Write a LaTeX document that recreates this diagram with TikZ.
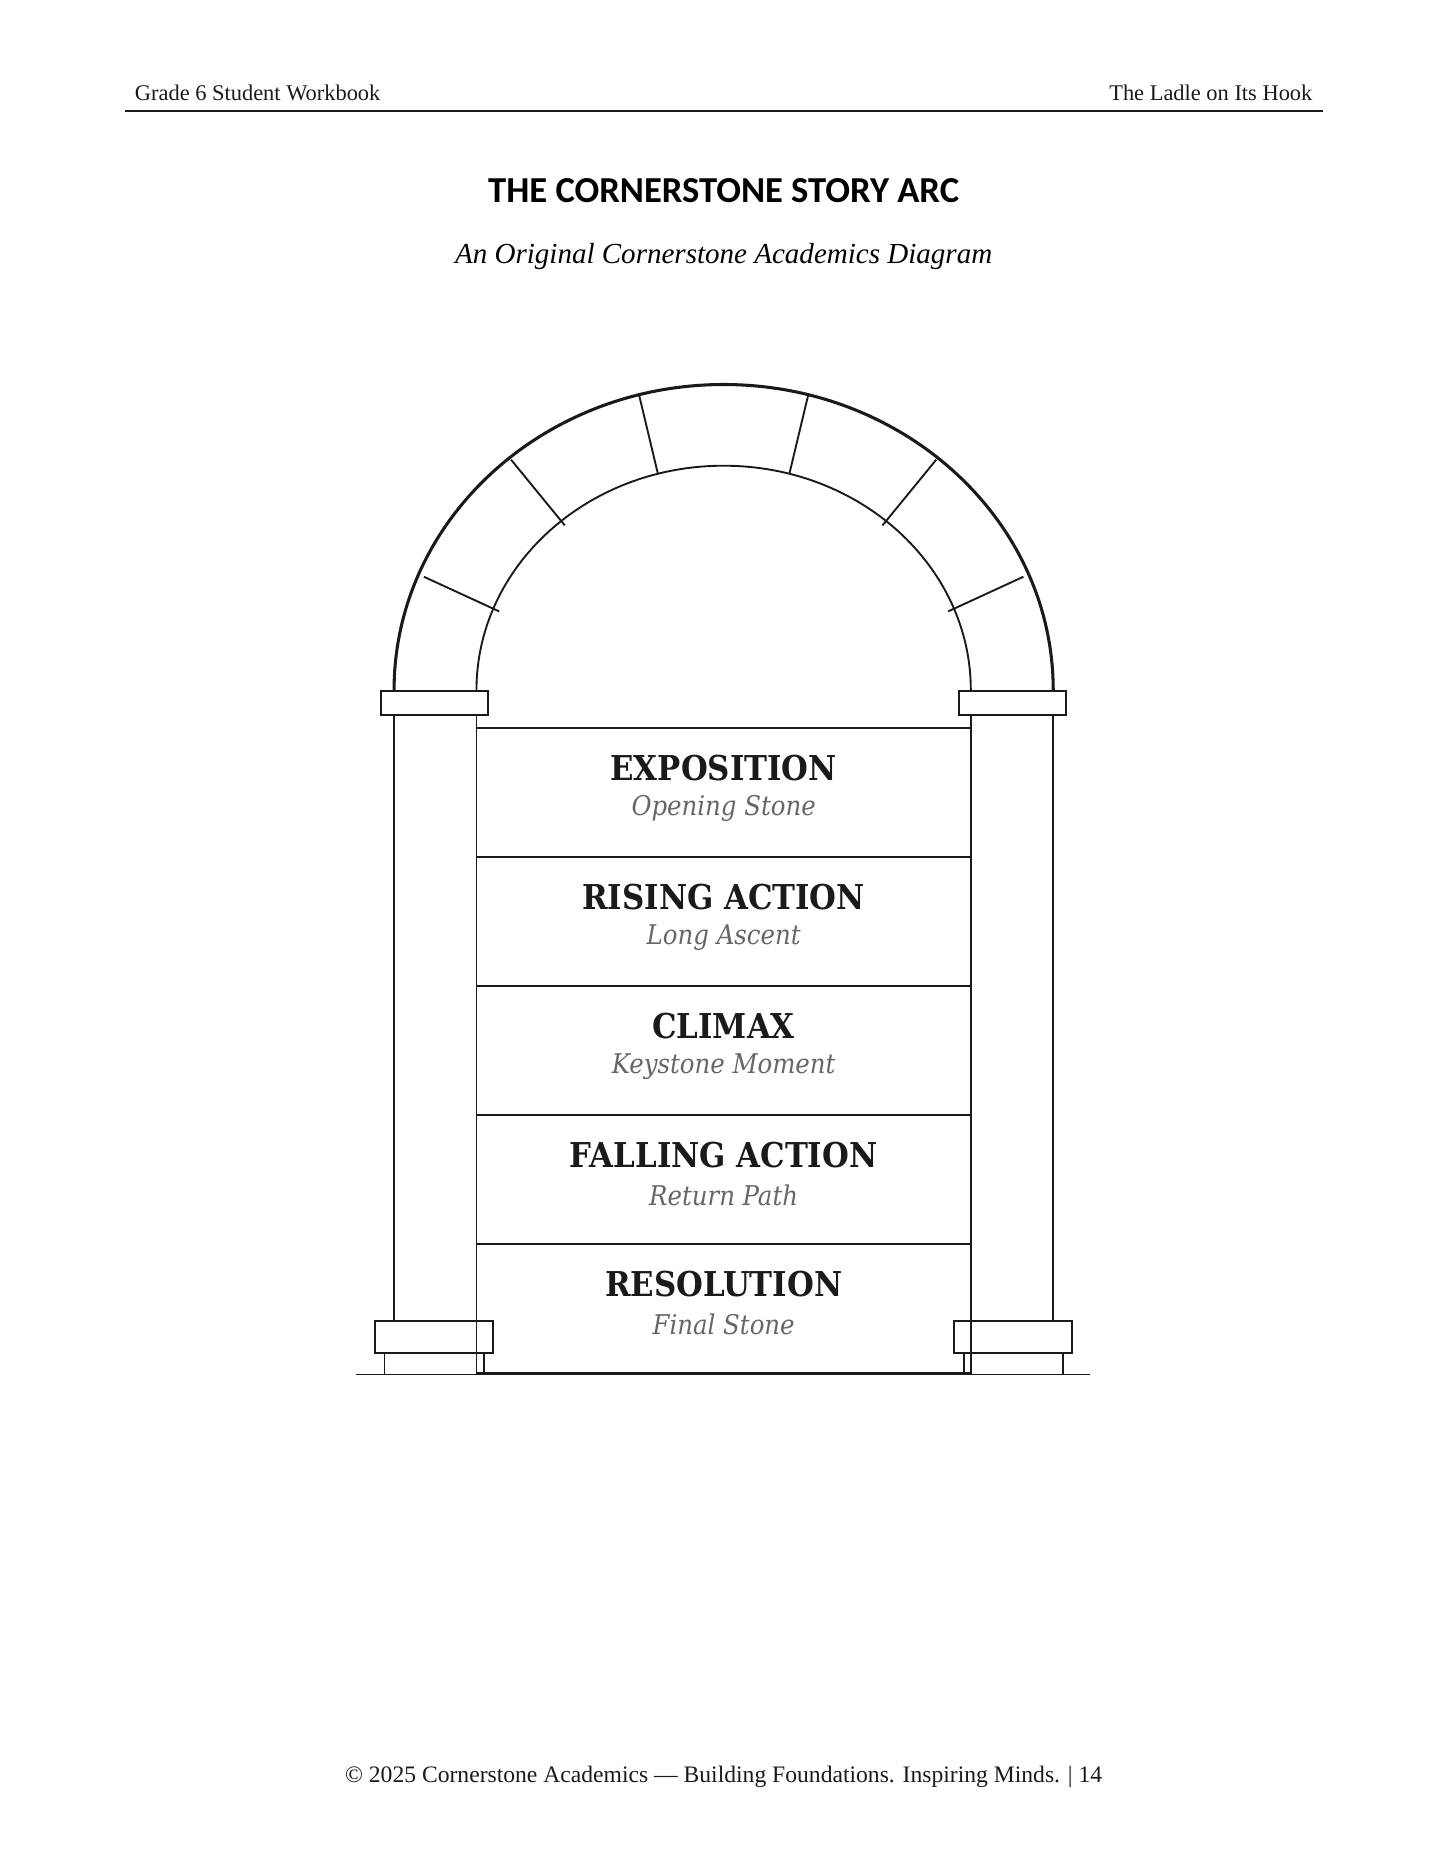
\documentclass[tikz,border=0pt]{standalone}
\usepackage{fontspec}
\setmainfont{DejaVu Serif}
\newfontfamily\hdr{Liberation Serif}
\newfontfamily\ttl{Carlito}
\newfontfamily\cond{DejaVu Serif Condensed}
\definecolor{ink}{HTML}{1A1A1A}
\definecolor{sub}{HTML}{666666}
\begin{document}
\begin{tikzpicture}[x=0.5058pt,y=-0.5058pt,
  ln/.style={draw=ink,line width=0.8pt},
  thick ln/.style={draw=ink,line width=1.3pt},
  lab/.style={font=\cond\bfseries\fontsize{14.5}{17}\selectfont,text=ink},
  sublab/.style={font=\cond\itshape\fontsize{11.5}{13}\selectfont,text=sub}]
\useasboundingbox (0,0) rectangle (1210,1566);
% header
\node[anchor=base west,font=\hdr\fontsize{9.5}{11}\selectfont,text=ink] (hl) at (106,84) {Grade 6 Student Workbook};
\node[anchor=base east,font=\hdr\fontsize{9.5}{11}\selectfont,text=ink] (hr) at (1106,84) {The Ladle on Its Hook};
\draw[draw=ink,line width=0.5pt] (105,93) -- (1108,93);
\node[font=\ttl\bfseries\fontsize{15.5}{18}\selectfont] (title) at (606,160) {THE CORNERSTONE STORY ARC};
\node[font=\hdr\itshape\fontsize{12.3}{15}\selectfont] (subt) at (606,215) {An Original Cornerstone Academics Diagram};
% arch
\draw[thick ln] (330,578) arc[start angle=180,end angle=360,x radius=276,y radius=256];
\draw[ln] (399,578) arc[start angle=180,end angle=360,x radius=207,y radius=188];
\draw[ln] (355,483)--(418,512) (428,385)--(473,440) (535,330)--(551,397);
\draw[ln] (857,483)--(794,512) (784,385)--(739,440) (677,330)--(661,397);
% imposts
\draw[ln] (319,579) rectangle (409,599);
\draw[ln] (803,579) rectangle (893,599);
% columns
\draw[ln] (330,599) rectangle (399,1106);
\draw[ln] (813,599) rectangle (882,1106);
% bases
\draw[ln] (314,1106) rectangle (413,1133);
\draw[ln] (322,1133) rectangle (405,1151);
\draw[ln] (799,1106) rectangle (898,1133);
\draw[ln] (807,1133) rectangle (890,1151);
% stones
\foreach \y in {610,718,826,934,1042}{\draw[ln] (399,\y) rectangle (813,\y+108);}
\foreach \t/\s/\y/\n in {EXPOSITION/Opening Stone/610/a,RISING ACTION/Long Ascent/718/b,CLIMAX/Keystone Moment/826/c,FALLING ACTION/Return Path/934/d,RESOLUTION/Final Stone/1042/e}{
  \node[lab] (t\n) at (606,\y+33) {\t};
  \node[sublab] (s\n) at (606,\y+67) {\s};
}
\draw[ln] (298,1151) -- (913,1151);
% footer
\node[font=\hdr\fontsize{10}{12}\selectfont,text=ink] (foot) at (606,1488) {© 2025 Cornerstone Academics — Building Foundations. Inspiring Minds. | 14};
\end{tikzpicture}
\end{document}
